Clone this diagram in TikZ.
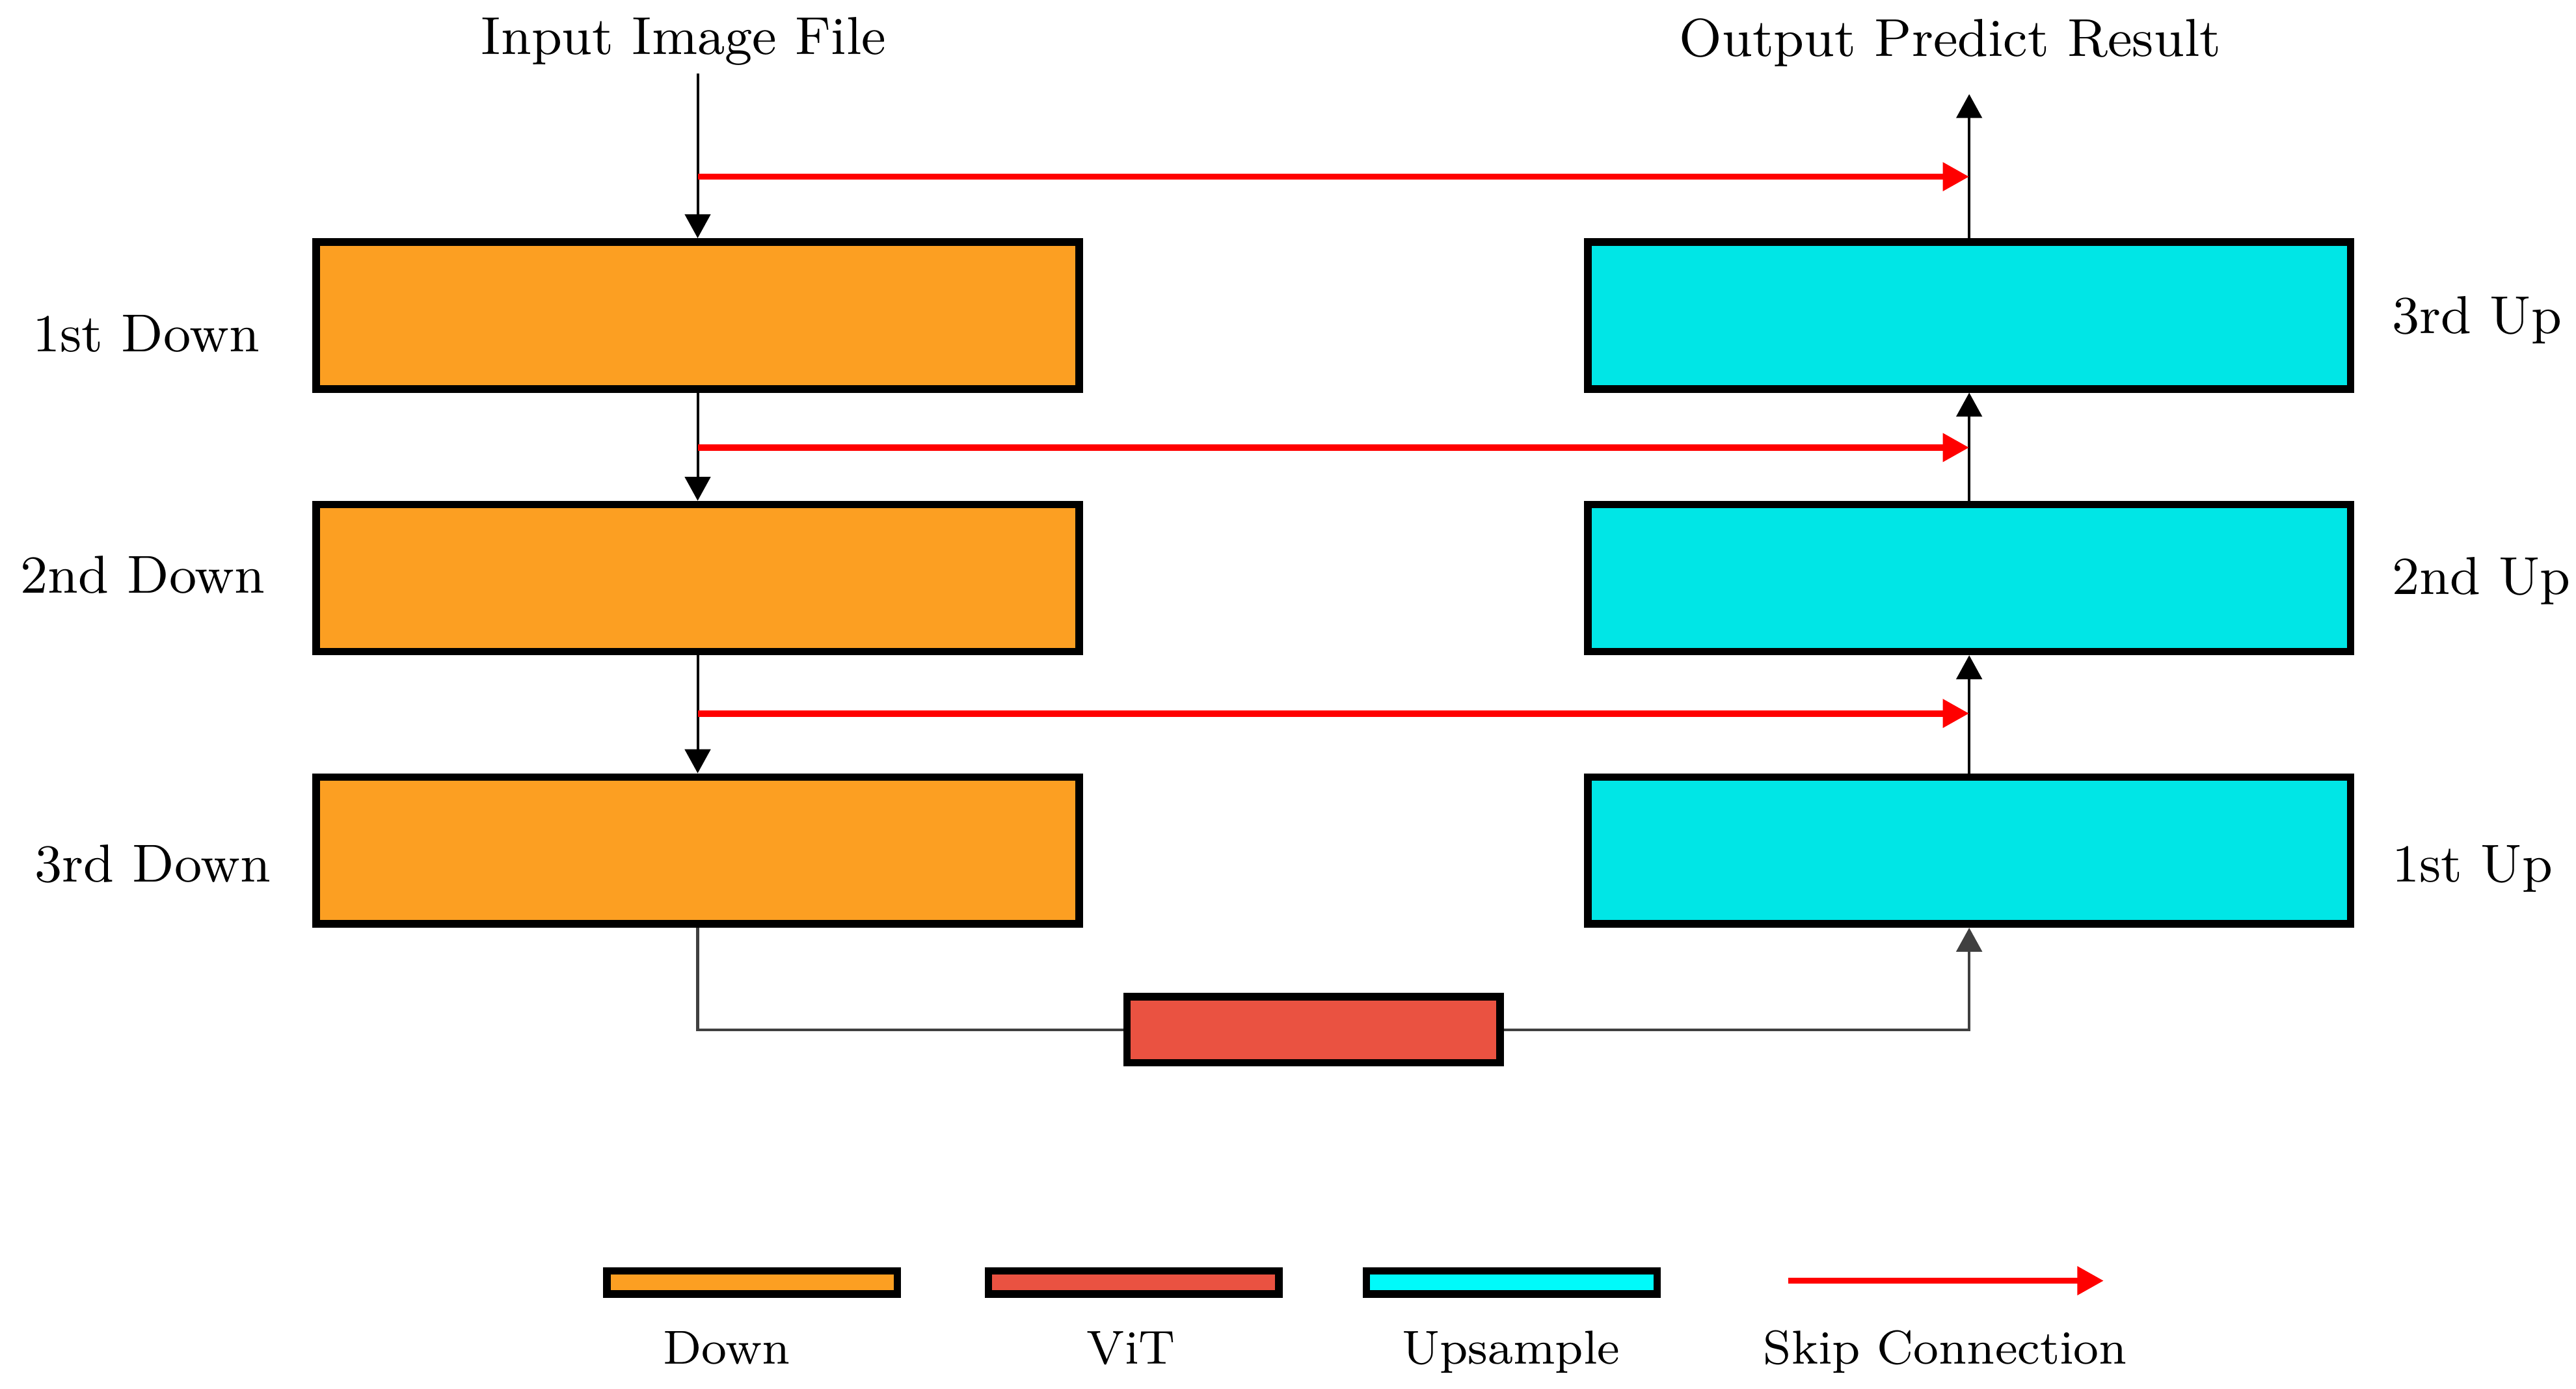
\documentclass[tikz,border=0pt]{standalone}
\usetikzlibrary{arrows.meta}
\definecolor{downorange}{RGB}{252,159,34}
\definecolor{upcyan}{RGB}{0,230,230}
\definecolor{vitred}{RGB}{234,82,65}
\definecolor{keycyan}{RGB}{0,250,250}
\begin{document}
\begin{tikzpicture}[
  blk/.style={rectangle, draw, line width=1.3pt, minimum width=4.62cm, minimum height=0.89cm, inner sep=0pt},
  key/.style={rectangle, draw, line width=1.3pt, minimum width=1.76cm, minimum height=0.14cm, inner sep=0pt},
  lbl/.style={inner sep=0pt, anchor=base, font=\fontsize{9.2pt}{11pt}\selectfont},
  keylbl/.style={inner sep=0pt, anchor=base, font=\fontsize{8.2pt}{10pt}\selectfont},
  blktip/.style={-{Triangle[length=1.45mm,width=1.55mm]}},
  e/.style={blktip, line width=0.45pt},
  ln/.style={draw=black!75, line width=0.5pt},
  skp/.style={-{Triangle[length=1.6mm,width=1.65mm]}, red, line width=1.1pt}
]
\useasboundingbox (0,0) rectangle (15.6,-8.41);

% encoder / decoder blocks
\node[blk, fill=downorange] (d1) at (4.225,-1.91) {};
\node[blk, fill=downorange] (d2) at (4.225,-3.50) {};
\node[blk, fill=downorange] (d3) at (4.225,-5.15) {};
\node[blk, fill=upcyan] (u3) at (11.925,-1.91) {};
\node[blk, fill=upcyan] (u2) at (11.925,-3.50) {};
\node[blk, fill=upcyan] (u1) at (11.925,-5.15) {};
\node[rectangle, draw, line width=1.3pt, fill=vitred, minimum width=2.26cm, minimum height=0.40cm] (vit) at (7.955,-6.235) {};

\node[lbl] (l1) at (0.885,-2.13) {1st Down};
\node[lbl] (l2) at (0.865,-3.59) {2nd Down};
\node[lbl] (l3) at (0.925,-5.34) {3rd Down};
\node[lbl, anchor=base west] (r3) at (14.48,-2.02) {3rd Up};
\node[lbl, anchor=base west] (r2) at (14.48,-3.60) {2nd Up};
\node[lbl, anchor=base west] (r1) at (14.48,-5.34) {1st Up};
\node[lbl] (inp) at (4.14,-0.33) {Input Image File};
\node[lbl] (outp) at (11.81,-0.34) {Output Predict Result};

\coordinate (inTop) at (4.225,-0.445);
\coordinate (outTop) at (11.925,-0.57);
\coordinate (k0) at (4.225,-1.07);
\coordinate (k1) at (4.225,-2.71);
\coordinate (k2) at (4.225,-4.32);

\draw[e] (inTop) -- (d1.north);
\draw[e] (d1) -- (d2);
\draw[e] (d2) -- (d3);
\draw[e] (u1) -- (u2);
\draw[e] (u2) -- (u3);
\draw[e] (u3) -- (outTop);
\draw[ln] (d3.south) |- (vit.west);
\draw[ln, blktip] (vit.east) -| (u1.south);

% skip connections
\draw[skp] (k0) -- (k0 -| u3);
\draw[skp] (k1) -- (k1 -| u2);
\draw[skp] (k2) -- (k2 -| u1);

% legend
\node[key, fill=downorange] (kd) at (4.555,-7.765) {};
\node[key, fill=vitred] (kv) at (6.865,-7.765) {};
\node[key, fill=keycyan] (ku) at (9.155,-7.765) {};
\coordinate (ks0) at (10.83,-7.755);
\coordinate (ks1) at (12.74,-7.755);
\draw[skp] (ks0) -- (ks1);
\node[keylbl] (kdl) at (4.40,-8.26) {Down};
\node[keylbl] (kvl) at (6.85,-8.26) {ViT};
\node[keylbl] (kul) at (9.15,-8.26) {Upsample};
\node[keylbl] (ksl) at (11.78,-8.26) {Skip Connection};
\end{tikzpicture}
\end{document}
